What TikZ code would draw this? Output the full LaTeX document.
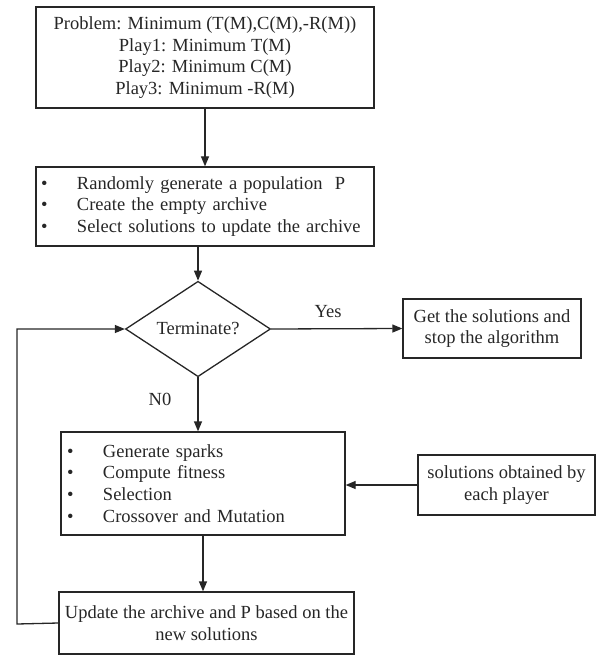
\documentclass[tikz,border=0pt]{standalone}
\usepackage{fontspec}
\setmainfont{Liberation Serif}
\usetikzlibrary{arrows.meta,shapes.geometric}
\newcommand\bulitem{\makebox[36pt][l]{\textbullet}}
\begin{document}
\begin{tikzpicture}[x=1pt,y=-1pt,
  every node/.style={font=\fontsize{18.5pt}{21.7pt}\selectfont, text=black!85, inner sep=0pt},
  box/.style={draw=black!85, line width=1.3pt, rectangle, align=center},
  listbox/.style={draw=black!85, line width=1.3pt, rectangle, align=left},
  decision/.style={draw=black!85, line width=1.3pt, diamond, minimum width=145pt, minimum height=86pt},
  arr/.style={draw=black!85, line width=1.3pt, -{Triangle[length=10pt,width=8pt]}},
  link/.style={draw=black!85, line width=1.3pt}]
\useasboundingbox (0,0) rectangle (599,655);

\node[box, minimum width=338pt, minimum height=101pt] (prob) at (205,57.5)
  {Problem: Minimum (T(M),C(M),-R(M))\\Play1: Minimum T(M)\\Play2: Minimum C(M)\\Play3: Minimum -R(M)};

\node[listbox, minimum width=338pt, minimum height=79pt, text width=328pt, inner xsep=5pt] (init) at (205,206.5)
  {\bulitem Randomly generate a population~~P\\\bulitem Create the empty archive\\\bulitem Select solutions to update the archive};

\node[decision] (dia) at (198,329) {Terminate?};

\node[box, minimum width=178pt, minimum height=59pt] (stop) at (492,328.5)
  {Get the solutions and\\stop the algorithm};

\node[listbox, minimum width=284pt, minimum height=103pt, text width=272pt, inner xsep=6pt] (ops) at (203,483.5)
  {\bulitem Generate sparks\\\bulitem Compute fitness\\\bulitem Selection\\\bulitem Crossover and Mutation};

\node[box, minimum width=177pt, minimum height=60pt] (players) at (506.5,485)
  {solutions obtained by\\each player};

\node[box, minimum width=295pt, minimum height=62pt] (upd) at (206.5,623)
  {Update the archive and P based on the\\new solutions};

\node (yes) at (328,312) {Yes};
\node (no) at (160,399) {N0};

\coordinate (lp) at (17,624);

\draw[arr] (prob) -- (init);
\draw[arr] (init.south -| dia.north) -- (dia.north);
\draw[arr] (dia.east) -- (stop.west);
\draw[arr] (dia.south) -- (dia.south |- ops.north);
\draw[arr] (players.west) -- (players.west -| ops.east);
\draw[arr] (ops.south) -- (ops.south |- upd.north);
\draw[arr] (upd.west) -- (lp) |- (dia.west);
\end{tikzpicture}
\end{document}
